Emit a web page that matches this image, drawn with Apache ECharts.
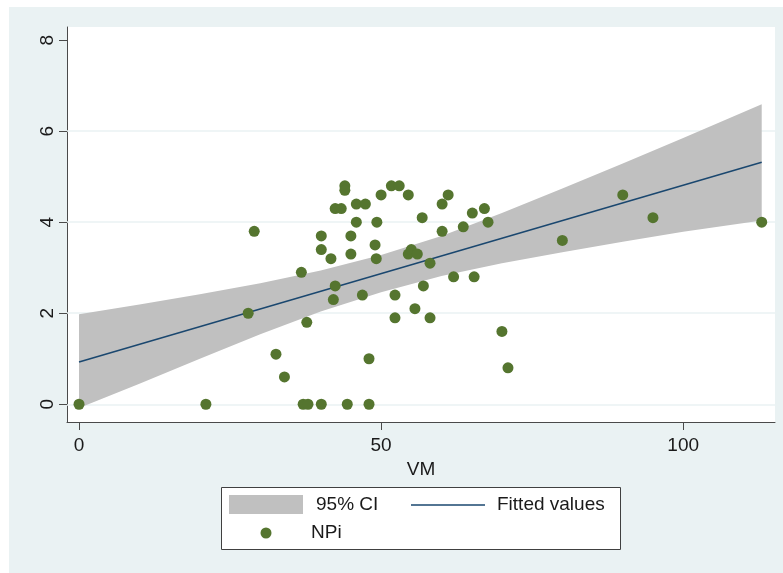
<!DOCTYPE html>
<html>
<head>
<meta charset="utf-8">
<script src="https://cdn.jsdelivr.net/npm/echarts@6/dist/echarts.min.js"></script>
<style>
html,body{margin:0;padding:0;background:#fff;}
#chart{width:783px;height:573px;}
</style>
</head>
<body>
<div id="chart"></div>
<script>
// ---- data ----
const vm  = [0, 21, 28, 29, 32.6, 34, 36.8, 37.1, 37.9, 37.7, 40.1, 40.1, 40.1, 41.7, 42.1, 42.4, 42.4, 43.4, 44, 44,
             44.4, 45, 45, 45.9, 45.9, 47.4, 46.9, 48, 48, 49, 49.2, 49.3, 50, 51.7, 53, 52.3, 52.3, 54.5, 54.5, 55,
             56, 55.6, 56.8, 57, 58.1, 58.1, 60.1, 60.1, 61.1, 62, 63.6, 65.1, 65.4, 67.1, 67.7, 70, 71, 80, 90, 95, 113];
const npi = [0, 0, 2.0, 3.8, 1.1, 0.6, 2.9, 0, 0, 1.8, 3.7, 3.4, 0, 3.2, 2.3, 2.6, 4.3, 4.3, 4.8, 4.7,
             0, 3.7, 3.3, 4.0, 4.4, 4.4, 2.4, 1.0, 0, 3.5, 3.2, 4.0, 4.6, 4.8, 4.8, 2.4, 1.9, 4.6, 3.3, 3.4,
             3.3, 2.1, 4.1, 2.6, 3.1, 1.9, 4.4, 3.8, 4.6, 2.8, 3.9, 4.2, 2.8, 4.3, 4.0, 1.6, 0.8, 3.6, 4.6, 4.1, 4.0];

const fitX = [0, 113];
const fitY = [0.93, 5.32];

const ciX  = [0, 10, 20, 30, 40, 50, 60, 70, 80, 90, 100, 113];
const ciLo = [-0.08, 0.45, 1.00, 1.54, 2.04, 2.46, 2.82, 3.10, 3.34, 3.57, 3.79, 4.04];
const ciHi = [1.98, 2.19, 2.42, 2.66, 2.94, 3.28, 3.70, 4.20, 4.74, 5.29, 5.85, 6.59];

const xTicks = [0, 50, 100];
const yTicks = [0, 2, 4, 6, 8];
const gridYs = [0, 2, 4, 6];

const seriesNames = {ci: '95% CI', fit: 'Fitted values', pts: 'NPi'};
const xTitle = 'VM';

// ---- build chart ----
const FONT = "'Liberation Sans', Arial, sans-serif";
const TXT = '#1a1a1a';
const AX = '#4a4a4a';
const chart = echarts.init(document.getElementById('chart'), null, {renderer: 'canvas'});

const option = {
  animation: false,
  backgroundColor: '#eaf2f3',
  textStyle: {fontFamily: FONT},
  grid: {left: 67, right: 8, top: 27, bottom: 151, show: true, backgroundColor: '#ffffff', borderWidth: 0},
  xAxis: {
    type: 'value', min: -1.99, max: 115.2,
    name: xTitle, nameLocation: 'middle', nameGap: 29,
    nameTextStyle: {fontSize: 19, color: TXT, fontFamily: FONT},
    axisLine: {show: true, onZero: false, lineStyle: {color: AX, width: 1}},
    axisTick: {show: true, length: 8, customValues: xTicks, lineStyle: {color: AX, width: 1}},
    axisLabel: {customValues: xTicks, margin: 14, fontSize: 19, color: TXT, fontFamily: FONT},
    splitLine: {show: false}
  },
  yAxis: {
    type: 'value', min: -0.39, max: 8.29,
    axisLine: {show: true, onZero: false, lineStyle: {color: AX, width: 1}},
    axisTick: {show: true, length: 8, customValues: yTicks, lineStyle: {color: AX, width: 1}},
    axisLabel: {customValues: yTicks, rotate: 90, margin: 10, fontSize: 19, color: TXT, fontFamily: FONT},
    splitLine: {show: false}
  },
  series: [
    {
      type: 'line', name: 'grid', data: [], z: 1, silent: true,
      markLine: {
        z: 1, silent: true, symbol: ['none', 'none'], label: {show: false},
        lineStyle: {color: '#eaf2f3', width: 1.5, type: 'solid'},
        data: gridYs.map(v => ({yAxis: v}))
      }
    },
    {
      type: 'custom', name: seriesNames.ci, z: 2, silent: true,
      data: ciX.map((x, i) => [x, ciLo[i], ciHi[i]]),
      encode: {x: 0, y: [1, 2]},
      renderItem: function (params, api) {
        if (params.dataIndex !== 0) return null;
        const pts = [];
        for (let i = 0; i < ciX.length; i++) pts.push(api.coord([ciX[i], ciHi[i]]));
        for (let i = ciX.length - 1; i >= 0; i--) pts.push(api.coord([ciX[i], ciLo[i]]));
        return {type: 'polygon', shape: {points: pts}, style: {fill: '#c0c0c0', stroke: null}};
      }
    },
    {
      type: 'line', name: seriesNames.fit, z: 3, silent: true,
      data: fitX.map((x, i) => [x, fitY[i]]),
      showSymbol: false, symbol: 'none',
      lineStyle: {color: '#1a476f', width: 1.5}
    },
    {
      type: 'scatter', name: seriesNames.pts, z: 4, silent: true,
      data: vm.map((x, i) => [x, npi[i]]),
      symbol: 'circle', symbolSize: 11,
      itemStyle: {color: '#55752f', opacity: 1}
    }
  ],
  graphic: [
    {type: 'rect', shape: {x: 0, y: 0, width: 9, height: 573}, style: {fill: '#ffffff'}, silent: true},
    {type: 'rect', shape: {x: 0, y: 0, width: 783, height: 7}, style: {fill: '#ffffff'}, silent: true},
    // legend box
    {type: 'rect', shape: {x: 221.5, y: 487.5, width: 399, height: 62}, style: {fill: '#ffffff', stroke: '#404040', lineWidth: 1}, silent: true},
    {type: 'rect', shape: {x: 229, y: 495, width: 74, height: 19}, style: {fill: '#c0c0c0'}, silent: true},
    {type: 'text', x: 316, y: 505, style: {text: seriesNames.ci, font: '19px ' + FONT, fill: TXT, verticalAlign: 'middle', align: 'left'}, silent: true},
    {type: 'line', shape: {x1: 411, y1: 505, x2: 485, y2: 505}, style: {stroke: '#1a476f', lineWidth: 1.5}, silent: true},
    {type: 'text', x: 497, y: 505, style: {text: seriesNames.fit, font: '19px ' + FONT, fill: TXT, verticalAlign: 'middle', align: 'left'}, silent: true},
    {type: 'circle', shape: {cx: 266, cy: 533, r: 5.5}, style: {fill: '#55752f'}, silent: true},
    {type: 'text', x: 311, y: 533, style: {text: seriesNames.pts, font: '19px ' + FONT, fill: TXT, verticalAlign: 'middle', align: 'left'}, silent: true}
  ]
};
chart.setOption(option);
</script>
</body>
</html>
